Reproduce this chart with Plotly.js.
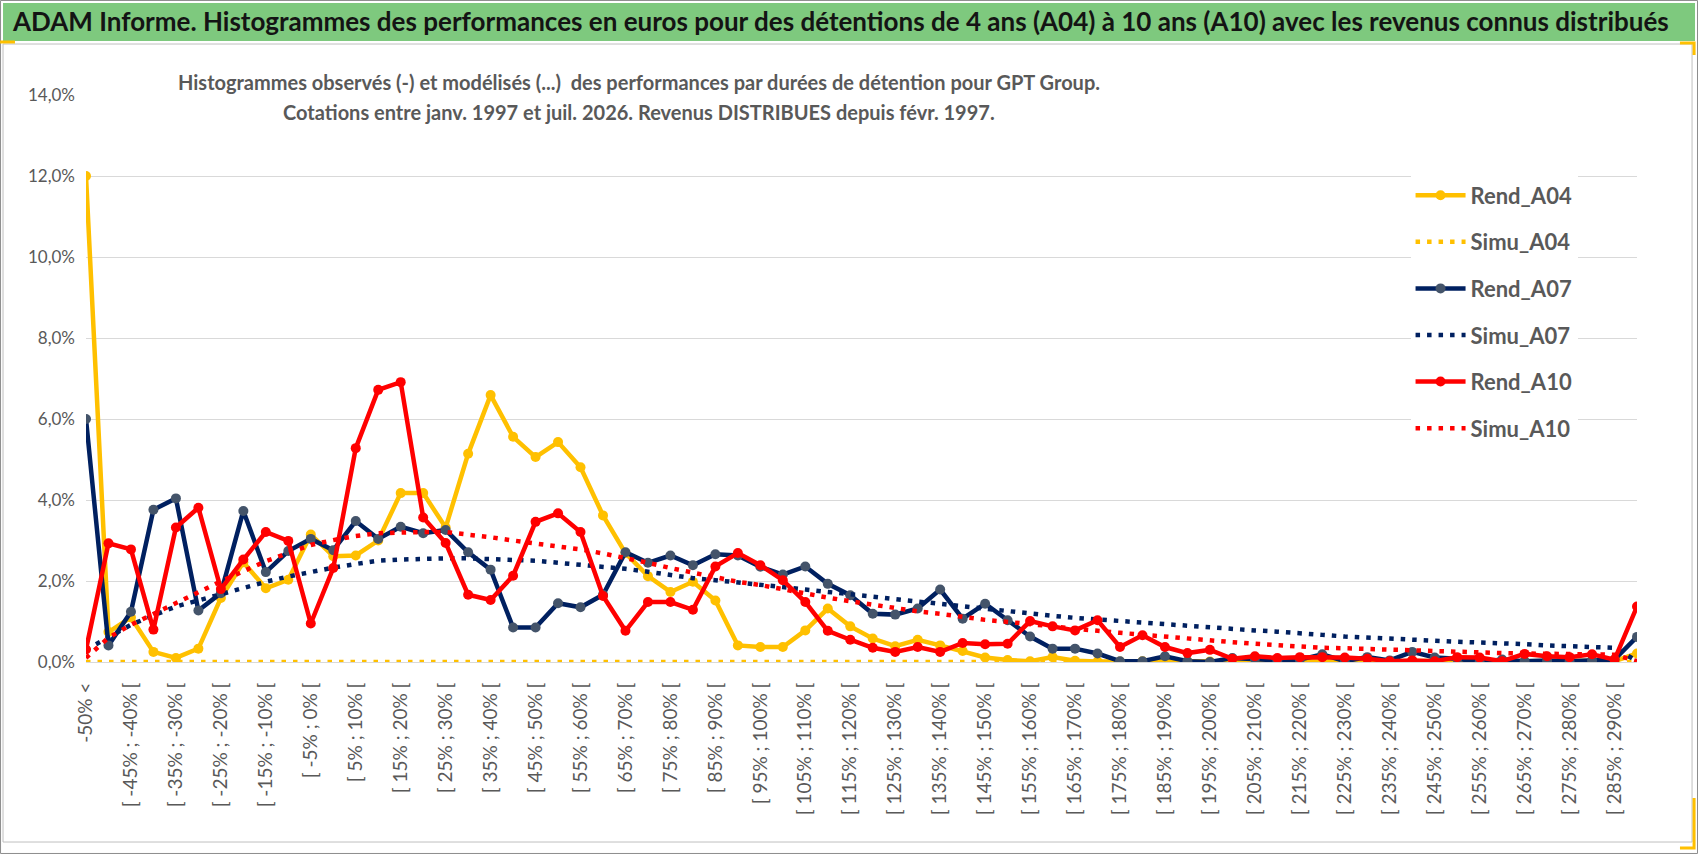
<!DOCTYPE html>
<html>
<head>
<meta charset="utf-8">
<script src="https://cdn.plot.ly/plotly-3.0.1.min.js"></script>
<style>
  html, body { margin: 0; padding: 0; background: #fff; }
  #plot { width: 1698px; height: 854px; }
</style>
</head>
<body>
<div id="plot"></div>
<script>
// classes de performance (70 classes, une etiquette sur deux affichee)
var cats = [
    "-50% <",
    "[ -50% ; -45% [", "[ -45% ; -40% [", "[ -40% ; -35% [", "[ -35% ; -30% [", "[ -30% ; -25% [",
    "[ -25% ; -20% [", "[ -20% ; -15% [", "[ -15% ; -10% [", "[ -10% ; -5% [", "[ -5% ; 0% [",
    "[ 0% ; 5% [", "[ 5% ; 10% [", "[ 10% ; 15% [", "[ 15% ; 20% [", "[ 20% ; 25% [",
    "[ 25% ; 30% [", "[ 30% ; 35% [", "[ 35% ; 40% [", "[ 40% ; 45% [", "[ 45% ; 50% [",
    "[ 50% ; 55% [", "[ 55% ; 60% [", "[ 60% ; 65% [", "[ 65% ; 70% [", "[ 70% ; 75% [",
    "[ 75% ; 80% [", "[ 80% ; 85% [", "[ 85% ; 90% [", "[ 90% ; 95% [", "[ 95% ; 100% [",
    "[ 100% ; 105% [", "[ 105% ; 110% [", "[ 110% ; 115% [", "[ 115% ; 120% [", "[ 120% ; 125% [",
    "[ 125% ; 130% [", "[ 130% ; 135% [", "[ 135% ; 140% [", "[ 140% ; 145% [", "[ 145% ; 150% [",
    "[ 150% ; 155% [", "[ 155% ; 160% [", "[ 160% ; 165% [", "[ 165% ; 170% [", "[ 170% ; 175% [",
    "[ 175% ; 180% [", "[ 180% ; 185% [", "[ 185% ; 190% [", "[ 190% ; 195% [", "[ 195% ; 200% [",
    "[ 200% ; 205% [", "[ 205% ; 210% [", "[ 210% ; 215% [", "[ 215% ; 220% [", "[ 220% ; 225% [",
    "[ 225% ; 230% [", "[ 230% ; 235% [", "[ 235% ; 240% [", "[ 240% ; 245% [", "[ 245% ; 250% [",
    "[ 250% ; 255% [", "[ 255% ; 260% [", "[ 260% ; 265% [", "[ 265% ; 270% [", "[ 270% ; 275% [",
    "[ 275% ; 280% [", "[ 280% ; 285% [", "[ 285% ; 290% [", "[ 290% ; 295% ["
];

// frequences en %
var rendA04 = [
    12.0, 0.74, 1.10, 0.25, 0.10, 0.33, 1.58, 2.46, 1.82, 2.03,
    3.15, 2.61, 2.63, 3.00, 4.17, 4.17, 3.32, 5.14, 6.59, 5.56,
    5.06, 5.43, 4.81, 3.62, 2.69, 2.12, 1.73, 1.98, 1.52, 0.41,
    0.37, 0.37, 0.78, 1.32, 0.88, 0.58, 0.39, 0.55, 0.41, 0.27,
    0.11, 0.05, 0.02, 0.12, 0.03, 0.01, 0.01, 0.02, 0.00, 0.02,
    0.01, 0.02, 0.02, 0.02, 0.04, 0.00, 0.03, 0.04, 0.02, 0.03,
    0.02, 0.03, 0.02, 0.00, 0.02, 0.03, 0.02, 0.03, 0.02, 0.21
];
var simuA04 = [
    0, 0, 0, 0, 0, 0, 0, 0, 0, 0,
    0, 0, 0, 0, 0, 0, 0, 0, 0, 0,
    0, 0, 0, 0, 0, 0, 0, 0, 0, 0,
    0, 0, 0, 0, 0, 0, 0, 0, 0, 0,
    0, 0, 0, 0, 0, 0, 0, 0, 0, 0,
    0, 0, 0, 0, 0, 0, 0, 0, 0, 0,
    0, 0, 0, 0, 0, 0, 0, 0, 0, 0
];
var rendA07 = [
    6.00, 0.41, 1.24, 3.76, 4.04, 1.27, 1.70, 3.73, 2.22, 2.74,
    3.04, 2.76, 3.48, 3.04, 3.34, 3.18, 3.26, 2.71, 2.28, 0.85,
    0.85, 1.45, 1.35, 1.66, 2.71, 2.45, 2.63, 2.39, 2.66, 2.63,
    2.35, 2.16, 2.36, 1.93, 1.65, 1.19, 1.17, 1.32, 1.79, 1.07,
    1.44, 1.03, 0.63, 0.33, 0.33, 0.21, 0.02, 0.02, 0.14, 0.02,
    0.00, 0.10, 0.08, 0.04, 0.06, 0.19, 0.02, 0.12, 0.04, 0.25,
    0.11, 0.08, 0.00, 0.06, 0.02, 0.04, 0.02, 0.04, 0.06, 0.62
];
var simuA07 = [
    0.30, 0.62, 0.92, 1.15, 1.37, 1.52, 1.68, 1.84, 1.98, 2.11,
    2.23, 2.33, 2.42, 2.50, 2.53, 2.55, 2.56, 2.56, 2.54, 2.53,
    2.50, 2.45, 2.40, 2.36, 2.30, 2.23, 2.14, 2.07, 2.02, 1.97,
    1.92, 1.85, 1.79, 1.73, 1.66, 1.60, 1.54, 1.48, 1.42, 1.37,
    1.31, 1.26, 1.20, 1.14, 1.09, 1.05, 1.01, 0.97, 0.92, 0.88,
    0.84, 0.81, 0.78, 0.75, 0.72, 0.67, 0.63, 0.60, 0.58, 0.56,
    0.53, 0.50, 0.48, 0.47, 0.44, 0.41, 0.39, 0.37, 0.35, 0.02
];
var rendA10 = [
    0.31, 2.93, 2.78, 0.80, 3.32, 3.81, 1.80, 2.53, 3.21, 2.99,
    0.95, 2.32, 5.28, 6.72, 6.91, 3.57, 2.94, 1.66, 1.53, 2.13,
    3.46, 3.67, 3.21, 1.63, 0.77, 1.48, 1.48, 1.29, 2.36, 2.69,
    2.39, 2.02, 1.48, 0.77, 0.55, 0.35, 0.25, 0.37, 0.25, 0.47,
    0.44, 0.45, 1.01, 0.88, 0.78, 1.03, 0.37, 0.66, 0.37, 0.22,
    0.30, 0.08, 0.14, 0.10, 0.12, 0.12, 0.11, 0.08, 0.02, 0.04,
    0.02, 0.12, 0.11, 0.02, 0.20, 0.14, 0.12, 0.19, 0.06, 1.37
];
var simuA10 = [
    0.10, 0.60, 0.92, 1.18, 1.43, 1.72, 1.99, 2.25, 2.49, 2.69,
    2.89, 3.01, 3.11, 3.18, 3.20, 3.21, 3.21, 3.15, 3.08, 3.00,
    2.93, 2.86, 2.78, 2.68, 2.57, 2.45, 2.32, 2.21, 2.08, 1.98,
    1.90, 1.79, 1.70, 1.59, 1.50, 1.41, 1.34, 1.25, 1.19, 1.11,
    1.04, 0.99, 0.93, 0.87, 0.81, 0.77, 0.72, 0.67, 0.62, 0.57,
    0.53, 0.49, 0.45, 0.41, 0.37, 0.35, 0.34, 0.32, 0.30, 0.28,
    0.26, 0.25, 0.23, 0.22, 0.21, 0.21, 0.20, 0.19, 0.18, 0.02
];

var titre = "ADAM Informe. Histogrammes des performances en euros pour des détentions de 4 ans (A04) à 10 ans (A10) avec les revenus connus distribués";
var sousTitre1 = "Histogrammes observés (-) et modélisés (...)  des performances par durées de détention pour GPT Group.";
var sousTitre2 = "Cotations entre janv. 1997 et juil. 2026. Revenus DISTRIBUES depuis févr. 1997.";

var gold = "#FFC000", navy = "#002060", slate = "#44546A", red = "#FF0000";
var txtGray = "#595959", grid = "#D9D9D9";
var font = "Lato, 'Open Sans', sans-serif";
var dots = "4.5px,7px";

function rend(name, y, col, mcol) {
    return {
        type: 'scatter', mode: 'lines+markers', name: name, legendgroup: name,
        x: cats, y: y,
        line: {color: col, width: 4.5},
        marker: {color: mcol, size: 10},
        hoverinfo: 'x+y+name'
    };
}
function simu(name, y, col) {
    return {
        type: 'scatter', mode: 'lines', name: name, legendgroup: name,
        x: cats, y: y,
        line: {color: col, width: 4.5, dash: dots},
        hoverinfo: 'x+y+name'
    };
}

var data = [
    rend('Rend_A04', rendA04, gold, gold),
    simu('Simu_A04', simuA04, gold),
    rend('Rend_A07', rendA07, navy, slate),
    simu('Simu_A07', simuA07, navy),
    rend('Rend_A10', rendA10, red, red),
    simu('Simu_A10', simuA10, red)
];

var evenCats = cats.filter(function (c, i) { return i % 2 === 0; });

var layout = {
    width: 1698, height: 854,
    margin: {l: 86, r: 61, t: 95, b: 192},
    paper_bgcolor: "#fff", plot_bgcolor: "#fff",
    separators: ", ",
    font: {family: font, color: txtGray},
    showlegend: true,
    title: {
        text: titre, xref: 'container', yref: 'container',
        x: 0.0077, xanchor: 'left', y: 0.974, yanchor: 'middle',
        font: {family: font, size: 26, color: "#141414", weight: 'bold'}
    },
    xaxis: {
        type: 'category', categoryorder: 'array', categoryarray: cats,
        range: [0, 69],
        tickmode: 'array', tickvals: evenCats, ticktext: evenCats,
        tickangle: -90, ticks: '', ticklabelstandoff: 12,
        tickfont: {family: font, size: 19, color: txtGray},
        showgrid: false, zeroline: false,
        showline: true, linecolor: grid, linewidth: 1
    },
    // axe fantome pour le quadrillage vertical toutes les 4 classes
    xaxis2: {
        overlaying: 'x', anchor: 'y', type: 'linear',
        range: [0, 69], tick0: 0, dtick: 4,
        showgrid: true, gridcolor: grid, gridwidth: 1,
        showticklabels: false, ticks: '', zeroline: false, showline: false
    },
    yaxis: {
        range: [0, 14], dtick: 2, tickformat: '.1f', ticksuffix: '%',
        ticks: '', ticklabelstandoff: 10,
        tickfont: {family: font, size: 17, color: txtGray},
        showgrid: true, gridcolor: grid, zeroline: false, showline: false
    },
    legend: {
        x: 0.854, y: 0.86, xanchor: 'left', yanchor: 'top',
        bgcolor: "#fff", borderwidth: 0,
        traceorder: 'grouped', tracegroupgap: 15, itemwidth: 50,
        font: {family: font, size: 22, color: txtGray, weight: 'bold'}
    },
    annotations: [
        {xref: 'paper', yref: 'paper', x: 0.3566, y: 1.0229, xanchor: 'center', yanchor: 'middle',
         text: sousTitre1, showarrow: false, bgcolor: "#fff", borderpad: 3,
         font: {family: font, size: 20, color: txtGray, weight: 'bold'}},
        {xref: 'paper', yref: 'paper', x: 0.3566, y: 0.970, xanchor: 'center', yanchor: 'middle',
         text: sousTitre2, showarrow: false, bgcolor: "#fff", borderpad: 3,
         font: {family: font, size: 20, color: txtGray, weight: 'bold'}}
    ],
    shapes: [
        // bandeau vert du titre
        {type: 'rect', xref: 'paper', yref: 'paper', layer: 'below',
         x0: -0.0535, x1: 1.0374, y0: 1.0952, y1: 1.1623,
         fillcolor: "#7EC97E", line: {width: 0}},
        // cadre du graphique
        {type: 'rect', xref: 'paper', yref: 'paper', layer: 'below',
         x0: -0.0535, x1: 1.0355, y0: -0.3175, y1: 1.0899,
         line: {color: "#BFBFBF", width: 1}},
        // cadre exterieur
        {type: 'rect', xref: 'paper', yref: 'paper', layer: 'below',
         x0: -0.0551, x1: 1.0390, y0: -0.3377, y1: 1.1667,
         line: {color: "#8C8C8C", width: 1}},
        // coins dores
        {type: 'path', xref: 'paper', yref: 'paper', layer: 'above',
         path: 'M -0.0554 1.0935 L -0.0458 1.0935', line: {color: gold, width: 3}},
        {type: 'path', xref: 'paper', yref: 'paper', layer: 'above',
         path: 'M 1.0277 1.0917 L 1.0368 1.0917 L 1.0368 1.0705', line: {color: gold, width: 3}},
        {type: 'path', xref: 'paper', yref: 'paper', layer: 'above',
         path: 'M 1.0368 -0.2399 L 1.0368 -0.328 L 1.0277 -0.328', line: {color: gold, width: 3}}
    ]
};

Plotly.newPlot('plot', data, layout, {displayModeBar: false, responsive: false});
</script>
</body>
</html>
